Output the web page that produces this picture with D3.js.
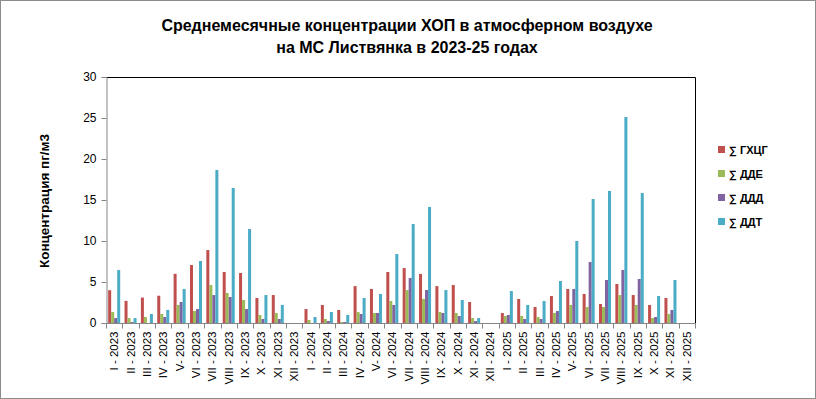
<!DOCTYPE html>
<html><head><meta charset="utf-8">
<script src="https://cdn.jsdelivr.net/npm/d3@7"></script>
<style>body{margin:0;background:#fff}svg{display:block}</style>
</head><body>
<svg id="c" width="816" height="399"></svg>
<script>
const categories = ["I - 2023","II - 2023","III - 2023","IV - 2023","V- 2023","VI - 2023","VII - 2023","VIII - 2023","IX - 2023","X - 2023","XI - 2023","XII - 2023",
"I - 2024","II - 2024","III - 2024","IV - 2024","V- 2024","VI - 2024","VII - 2024","VIII - 2024","IX - 2024","X - 2024","XI - 2024","XII - 2024",
"I - 2025","II - 2025","III - 2025","IV - 2025","V- 2025","VI - 2025","VII - 2025","VIII - 2025","IX - 2025","X - 2025","XI - 2025","XII - 2025"];
const seriesNames = ["∑ ГХЦГ","∑ ДДЕ","∑ ДДД","∑ ДДТ"];
const seriesColors = ["#C0504D","#9BBB59","#8064A2","#4BACC6"];
const hch = [4.0,2.7,3.1,3.33,6.0,7.07,8.9,6.22,6.1,3.05,3.41,0, 1.7,2.2,1.59,4.5,4.15,6.22,6.7,5.98,4.5,4.63,2.56,0, 1.22,2.93,1.95,3.29,4.15,3.54,2.32,4.76,3.41,2.2,3.05,0];
const dde = [1.34,0.6,0.73,1.1,2.2,1.46,4.63,3.66,2.8,0.98,1.22,0, 0.37,0.49,0.12,1.34,1.22,2.68,4.02,2.93,1.34,1.22,0.6,0, 0.85,0.85,0.73,1.22,2.2,1.95,1.95,3.41,2.2,0.61,1.1,0];
const ddd = [0.6,0.12,0,0.73,2.56,1.7,3.41,3.17,1.7,0.49,0.49,0, 0,0.24,0.12,1.1,1.22,2.2,5.49,4.02,1.22,0.85,0.24,0, 0.98,0.49,0.49,1.46,4.15,7.44,5.24,6.46,5.37,0.73,1.59,0];
const ddt = [6.46,0.6,1.1,1.6,4.15,7.56,18.66,16.46,11.46,3.41,2.2,0, 0.73,1.34,0.98,3.05,3.54,8.41,12.07,14.15,4.02,2.8,0.6,0, 3.9,2.2,2.68,5.12,10.0,15.12,16.1,25.12,15.85,3.29,5.24,0];
const yTicks = [0,5,10,15,20,25,30];
const seriesValues = [hch, dde, ddd, ddt];

const svg = d3.select("#c");
svg.append("rect").attr("x",0.5).attr("y",0.5).attr("width",815).attr("height",398)
  .attr("fill","#fff").attr("stroke","#8c8c8c");

const L=106, R=695, T=77, B=323;
const x = d3.scaleBand().domain(categories).range([L,R]).paddingInner(0.265).paddingOuter(0.1325);
const x1 = d3.scaleBand().domain(d3.range(4)).range([0,x.bandwidth()]);
const y = d3.scaleLinear().domain([0,30]).range([B,T]);

svg.append("path").attr("d",`M${L},${T+0.5}H${R+0.5}V${B}`).attr("fill","none").attr("stroke","#000").attr("stroke-width",1);

const g = svg.append("g");
categories.forEach((c,i)=>{
  seriesValues.forEach((vals,s)=>{
    const v = vals[i];
    if(v<=0) return;
    g.append("rect").attr("x",x(c)+x1(s)).attr("width",x1.bandwidth())
      .attr("y",y(v)).attr("height",B-y(v)).attr("fill",seriesColors[s]);
  });
});

const ya = svg.append("g").attr("transform",`translate(${L+0.5},0)`)
  .call(d3.axisLeft(y).tickValues(yTicks).tickSize(5).tickPadding(5));
ya.selectAll("path,line").attr("stroke","#868686");
ya.selectAll("text").attr("font-family","Liberation Sans, Arial, sans-serif").attr("font-size","12px").attr("fill","#000");

const step = x.step();
const xa = svg.append("g").attr("transform",`translate(0,${B+0.5})`);
xa.append("line").attr("x1",L).attr("x2",R+1).attr("stroke","#868686");
d3.range(categories.length+1).forEach(i=>{
  const xx = Math.round(L+i*step)+0.5;
  xa.append("line").attr("x1",xx).attr("x2",xx).attr("y1",0).attr("y2",5).attr("stroke","#868686");
});
categories.forEach(c=>{
  const cx = x(c)+x.bandwidth()/2;
  xa.append("text").attr("transform",`translate(${cx+4},8) rotate(-90)`)
    .attr("text-anchor","end").attr("font-family","Liberation Sans, Arial, sans-serif")
    .attr("font-size","11.5px").attr("fill","#000").text(c);
});

const title = svg.append("g").attr("font-family","Liberation Sans Narrow, Liberation Sans, Arial, sans-serif")
  .attr("font-weight","bold").attr("font-size","16px").attr("text-anchor","middle");
title.append("text").attr("x",407).attr("y",31).text("Среднемесячные концентрации ХОП в атмосферном воздухе");
title.append("text").attr("x",407).attr("y",53).text("на МС Листвянка в 2023-25 годах");

svg.append("text").attr("transform","translate(49,201) rotate(-90)").attr("text-anchor","middle")
  .attr("font-family","Liberation Sans, Arial, sans-serif").attr("font-weight","bold").attr("font-size","13.5px")
  .text("Концентрация пг/м3");

const lg = svg.append("g");
seriesNames.forEach((n,i)=>{
  const yy = 150 + i*24;
  lg.append("rect").attr("x",718).attr("y",yy-4).attr("width",7).attr("height",7).attr("fill",seriesColors[i]);
  lg.append("text").attr("x",729).attr("y",yy+4).attr("font-family","Liberation Sans, Arial, sans-serif")
    .attr("font-size","11px").attr("font-weight","bold").text(n);
});
</script>
</body></html>
